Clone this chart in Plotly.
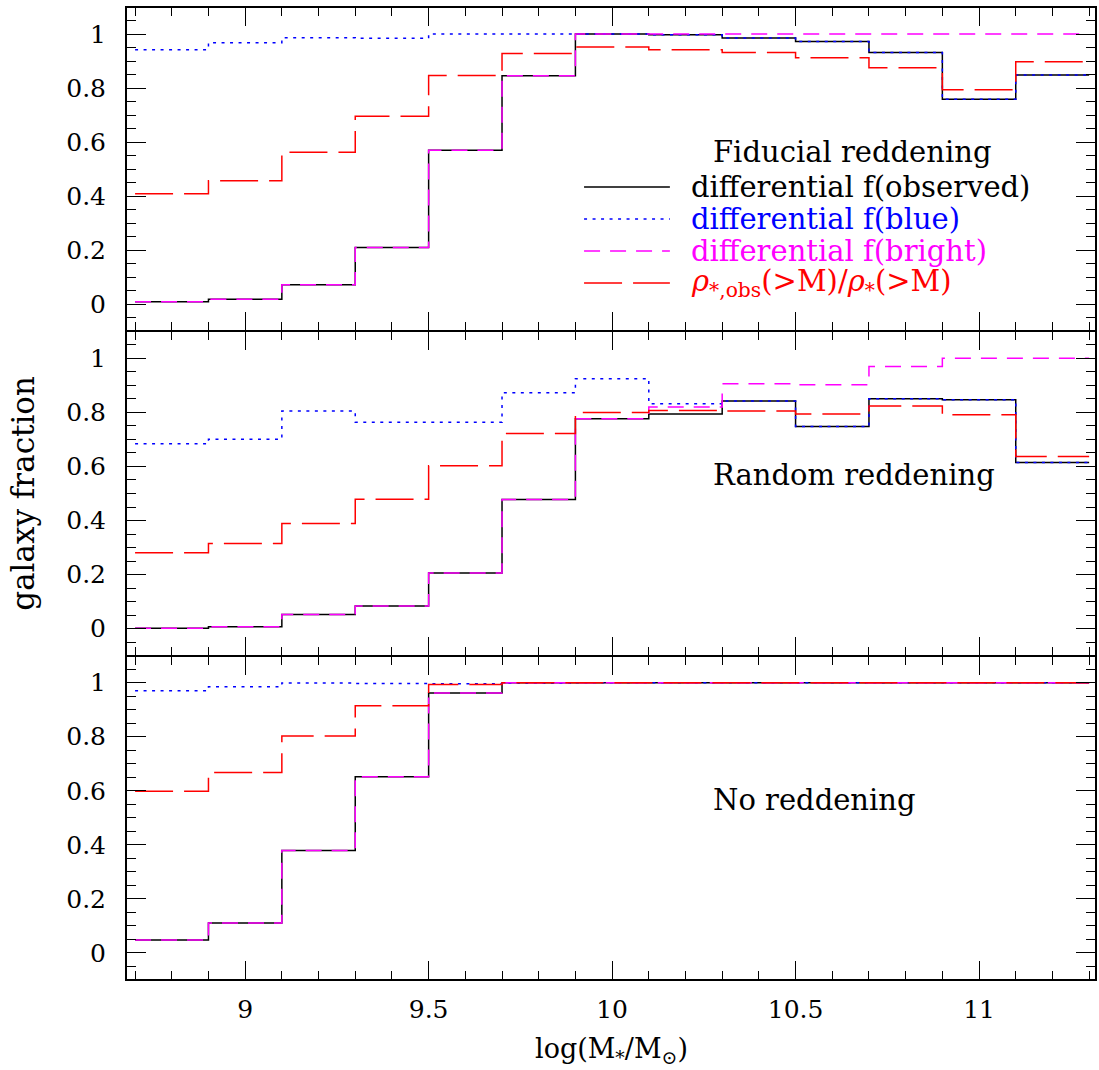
import plotly.graph_objects as go
from plotly.subplots import make_subplots

# Stellar-mass bins (bin centres, width 0.2 dex)
bin_centers = [8.8, 9.0, 9.2, 9.4, 9.6, 9.8, 10.0, 10.2, 10.4, 10.6, 10.8, 11.0, 11.2]
bin_width = 0.2

# Fiducial reddening
obs_fid = [0.009, 0.019, 0.072, 0.210, 0.570, 0.846, 1.000, 0.997, 0.985, 0.972, 0.932, 0.759, 0.848]
blue_fid = [0.942, 0.968, 0.986, 0.984, 1.000, 1.000, 1.000, 0.997, 0.985, 0.972, 0.932, 0.759, 0.848]
bright_fid = [0.009, 0.019, 0.072, 0.210, 0.570, 0.846, 1.000, 1.000, 1.000, 1.000, 1.000, 1.000, 1.000]
rho_fid = [0.409, 0.457, 0.563, 0.696, 0.847, 0.928, 0.952, 0.942, 0.932, 0.912, 0.875, 0.794, 0.897]

# Random reddening
obs_rand = [0.001, 0.007, 0.052, 0.084, 0.206, 0.478, 0.777, 0.794, 0.842, 0.748, 0.851, 0.847, 0.615]
blue_rand = [0.684, 0.701, 0.805, 0.764, 0.764, 0.873, 0.925, 0.832, 0.842, 0.748, 0.851, 0.847, 0.615]
bright_rand = [0.001, 0.007, 0.052, 0.084, 0.206, 0.478, 0.777, 0.820, 0.906, 0.902, 0.970, 1.000, 1.000]
rho_rand = [0.281, 0.315, 0.389, 0.479, 0.603, 0.722, 0.800, 0.807, 0.805, 0.794, 0.824, 0.791, 0.637]

# No reddening
obs_none = [0.048, 0.111, 0.379, 0.652, 0.962, 1.000, 1.000, 1.000, 1.000, 1.000, 1.000, 1.000, 1.000]
blue_none = [0.970, 0.985, 0.999, 0.997, 0.996, 0.998, 1.000, 1.000, 1.000, 1.000, 1.000, 1.000, 1.000]
bright_none = [0.048, 0.111, 0.379, 0.652, 0.962, 1.000, 1.000, 1.000, 1.000, 1.000, 1.000, 1.000, 1.000]
rho_none = [0.598, 0.668, 0.803, 0.915, 0.993, 1.000, 1.000, 1.000, 1.000, 1.000, 1.000, 1.000, 1.000]

panel_labels = ["Fiducial reddening", "Random reddening", "No reddening"]
legend_labels = [
    "differential f(observed)",
    "differential f(blue)",
    "differential f(bright)",
    "<i>ρ</i><sub>*,obs</sub>(>M)/<i>ρ</i><sub>*</sub>(>M)",
]

FONT = "DejaVu Serif"
styles = [
    dict(color="#000000", dash="solid"),
    dict(color="#0000ff", dash="3px,5.5px"),
    dict(color="#ff00ff", dash="16px,10px"),
    dict(color="#ff0000", dash="38px,11px"),
]

# step-histogram edges: left edges of every bin plus the final right edge
edges = [c - bin_width / 2 for c in bin_centers] + [bin_centers[-1] + bin_width / 2]


def step_y(vals):
    return list(vals) + [vals[-1]]


panels = [
    [obs_fid, blue_fid, bright_fid, rho_fid],
    [obs_rand, blue_rand, bright_rand, rho_rand],
    [obs_none, blue_none, bright_none, rho_none],
]

fig = make_subplots(rows=3, cols=1, shared_xaxes=True, vertical_spacing=0)

for r, series in enumerate(panels, start=1):
    for vals, st in zip(series, styles):
        fig.add_trace(
            go.Scatter(
                x=edges,
                y=step_y(vals),
                mode="lines",
                line=dict(shape="hv", width=1.5, color=st["color"], dash=st["dash"]),
                showlegend=False,
                hoverinfo="skip",
            ),
            row=r,
            col=1,
        )

axis_common = dict(
    showline=True,
    linecolor="black",
    mirror="allticks",
    ticks="inside",
    tickcolor="black",
    tickwidth=1.3,
    showgrid=False,
    zeroline=False,
    tickfont=dict(family=FONT, size=25, color="black"),
)

for r in range(1, 4):
    # thin x-axis lines so the shared panel boundaries stay as thick as the frame
    fig.update_xaxes(
        range=[8.678, 11.316],
        dtick=0.5,
        tick0=0,
        ticklen=19,
        linewidth=1,
        minor=dict(dtick=0.1, tick0=0, ticklen=9, ticks="inside", tickcolor="black", tickwidth=1.3),
        showticklabels=(r == 3),
        ticklabelstandoff=7,
        row=r,
        col=1,
        **axis_common,
    )
    fig.update_yaxes(
        range=[-0.1, 1.1],
        dtick=0.2,
        tick0=0,
        ticklen=19,
        linewidth=2,
        minor=dict(dtick=0.05, tick0=0, ticklen=9, ticks="inside", tickcolor="black", tickwidth=1.3),
        ticklabelstandoff=14,
        row=r,
        col=1,
        **axis_common,
    )

H_PLOT_L, H_PLOT_R = 127, 1097
V_PLOT_T, V_PLOT_B = 7, 980


def px_x(p):
    return (p - H_PLOT_L) / (H_PLOT_R - H_PLOT_L)


def px_y(p):
    return (V_PLOT_B - p) / (V_PLOT_B - V_PLOT_T)


# heavier outer top and bottom frame edges
for yy in (0, 1):
    fig.add_shape(type="line", xref="paper", yref="paper", x0=0, x1=1, y0=yy, y1=yy,
                  line=dict(color="black", width=2))

annotations = []
# panel titles
for label, yc in zip(panel_labels, [152, 475, 800]):
    annotations.append(dict(
        text=label, xref="paper", yref="paper", x=px_x(712), y=px_y(yc),
        xanchor="left", yanchor="middle", showarrow=False,
        font=dict(family=FONT, size=29, color="black"),
    ))

# legend entries in the top panel
legend_rows = [187, 219, 251, 283]
for label, st, yc in zip(legend_labels, styles, legend_rows):
    annotations.append(dict(
        text=label, xref="paper", yref="paper", x=px_x(690), y=px_y(yc),
        xanchor="left", yanchor="middle", showarrow=False,
        font=dict(family=FONT, size=29, color=st["color"]),
    ))
    fig.add_shape(
        type="line", xref="paper", yref="paper",
        x0=px_x(585), x1=px_x(671), y0=px_y(yc), y1=px_y(yc),
        line=dict(color=st["color"], width=1.5, dash=st["dash"]),
    )

# axis titles
annotations.append(dict(
    text="galaxy fraction", xref="paper", yref="paper", x=px_x(22), y=0.5,
    xanchor="center", yanchor="middle", textangle=-90, showarrow=False,
    font=dict(family=FONT, size=31, color="black"),
))
annotations.append(dict(
    text="log(M<sub>*</sub>/M<sub>⊙</sub>)", xref="paper", yref="paper", x=0.5, y=px_y(1050),
    xanchor="center", yanchor="middle", showarrow=False,
    font=dict(family=FONT, size=27, color="black"),
))

fig.update_layout(
    width=1099,
    height=1070,
    margin=dict(l=H_PLOT_L, r=1099 - H_PLOT_R, t=V_PLOT_T, b=1070 - V_PLOT_B),
    paper_bgcolor="white",
    plot_bgcolor="white",
    annotations=annotations,
    showlegend=False,
)

fig.write_html("out.html")
